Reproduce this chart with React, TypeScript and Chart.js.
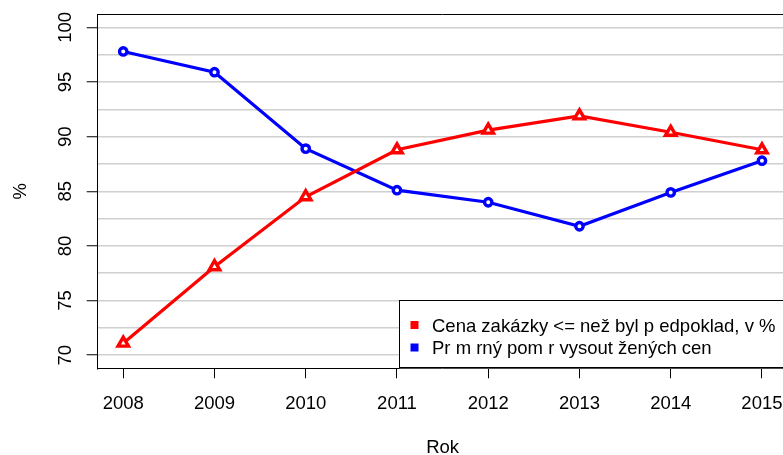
import React, { useEffect, useRef } from "react";
import { Chart, registerables } from "chart.js";

Chart.register(...registerables);

const years = [2008, 2009, 2010, 2011, 2012, 2013, 2014, 2015];
const cenaValues = [71.1, 78.1, 84.5, 88.8, 90.6, 91.9, 90.4, 88.8];
const prumerValues = [97.8, 95.9, 88.9, 85.1, 84.0, 81.8, 84.9, 87.8];
const yTickLabels = [70, 75, 80, 85, 90, 95, 100];
const gridValues = [70, 72.5, 75, 77.5, 80, 82.5, 85, 87.5, 90, 92.5, 95, 97.5, 100];
const seriesLabels = [
  "Cena zakázky <= než byl p edpoklad, v %",
  "Pr m rný pom r vysout žených cen",
];
const seriesColors = ["#ff0000", "#0000ff"];
const xTitle = "Rok";
const yTitle = "%";

const FONT = '"Liberation Sans", Arial, Helvetica, sans-serif';
const FS = 18.5;

const rPlugin = {
  id: "rStyle",
  afterDraw(chart: any) {
    const { ctx, chartArea: a, scales } = chart;
    const xs = scales.x;
    const ys = scales.y;
    ctx.save();
    // plot box (top and right edges)
    ctx.strokeStyle = "#000";
    ctx.lineWidth = 1;
    ctx.beginPath();
    const t = Math.round(a.top) + 0.5;
    ctx.moveTo(a.left, t);
    ctx.lineTo(a.right, t);
    ctx.moveTo(Math.round(a.right) - 0.5, t);
    ctx.lineTo(Math.round(a.right) - 0.5, a.bottom);
    ctx.stroke();

    ctx.font = `${FS}px ${FONT}`;
    ctx.fillStyle = "#000";
    ctx.textBaseline = "alphabetic";
    ctx.textAlign = "center";
    // x tick labels
    years.forEach((v) => {
      ctx.fillText(String(v), xs.getPixelForValue(v), 409);
    });
    // x title
    ctx.fillText(xTitle, (a.left + a.right) / 2, 453);
    // y tick labels (rotated)
    yTickLabels.forEach((v) => {
      ctx.save();
      ctx.translate(71, ys.getPixelForValue(v));
      ctx.rotate(-Math.PI / 2);
      ctx.fillText(String(v), 0, 0);
      ctx.restore();
    });
    // y title
    ctx.save();
    ctx.translate(26, (a.top + a.bottom) / 2);
    ctx.rotate(-Math.PI / 2);
    ctx.fillText(yTitle, 0, 0);
    ctx.restore();

    // legend (bottom right)
    const lx = 399.5;
    const ly = 300.5;
    ctx.fillStyle = "#fff";
    ctx.fillRect(lx, ly, a.right - lx, a.bottom - ly);
    ctx.strokeStyle = "#000";
    ctx.lineWidth = 1;
    ctx.strokeRect(lx, ly, a.right - lx, Math.round(a.bottom) - 0.5 - ly);
    const ds = chart.data.datasets;
    ds.forEach((d: any, i: number) => {
      const cy = 325 + i * 22.5;
      ctx.fillStyle = d.borderColor;
      ctx.fillRect(410.5, cy - 4, 8, 8);
      ctx.fillStyle = "#000";
      ctx.textAlign = "left";
      ctx.fillText(d.label, 432, cy + 6.7);
    });
    ctx.restore();
  },
};

export default function App() {
  const ref = useRef<HTMLCanvasElement | null>(null);

  useEffect(() => {
    if (!ref.current) return;
    const chart = new Chart(ref.current, {
      type: "line",
      data: {
        datasets: [
          {
            label: seriesLabels[0],
            data: years.map((y, i) => ({ x: y, y: cenaValues[i] })),
            borderColor: seriesColors[0],
            backgroundColor: seriesColors[0],
            borderWidth: 3.2,
            pointStyle: "triangle",
            pointRadius: 6,
            pointBorderWidth: 3.4,
            pointBackgroundColor: "#fff",
            pointBorderColor: seriesColors[0],
          },
          {
            label: seriesLabels[1],
            data: years.map((y, i) => ({ x: y, y: prumerValues[i] })),
            borderColor: seriesColors[1],
            backgroundColor: seriesColors[1],
            borderWidth: 3.2,
            pointStyle: "circle",
            pointRadius: 3.7,
            pointBorderWidth: 3.4,
            pointBackgroundColor: "#fff",
            pointBorderColor: seriesColors[1],
          },
        ],
      },
      options: {
        responsive: false,
        animation: false,
        events: [],
        layout: { padding: { left: 0, top: 14.3, right: 12.5, bottom: 0 } },
        plugins: { legend: { display: false }, tooltip: { enabled: false } },
        scales: {
          x: {
            type: "linear",
            min: 2007.72,
            max: 2015.28,
            afterBuildTicks: (s: any) => {
              s.ticks = years.map((v) => ({ value: v }));
            },
            afterFit: (s: any) => {
              s.height = 86.7;
            },
            grid: {
              drawOnChartArea: false,
              drawTicks: true,
              tickLength: 10,
              color: "#000",
              lineWidth: 1,
            },
            border: { display: true, color: "#000", width: 1 },
            ticks: { display: false },
          },
          y: {
            type: "linear",
            min: 68.8,
            max: 101.2,
            afterBuildTicks: (s: any) => {
              s.ticks = gridValues.map((v) => ({ value: v }));
            },
            afterFit: (s: any) => {
              s.width = 97.7;
            },
            grid: {
              color: "#d0d0d0",
              lineWidth: 1.5,
              drawTicks: true,
              tickLength: 11,
              tickWidth: 1,
              tickColor: (c: any) =>
                c.tick && c.tick.value % 5 === 0 ? "#000" : "rgba(0,0,0,0)",
            },
            border: { display: true, color: "#000", width: 1 },
            ticks: { display: false },
          },
        },
      },
      plugins: [rPlugin],
    } as any);
    return () => chart.destroy();
  }, []);

  return (
    <div
      style={{
        position: "fixed",
        left: 0,
        top: 0,
        width: 783,
        height: 455,
        overflow: "hidden",
        background: "#fff",
      }}
    >
      <canvas
        ref={ref}
        width={800}
        height={455}
        style={{ display: "block", width: 800, height: 455 }}
      />
    </div>
  );
}
